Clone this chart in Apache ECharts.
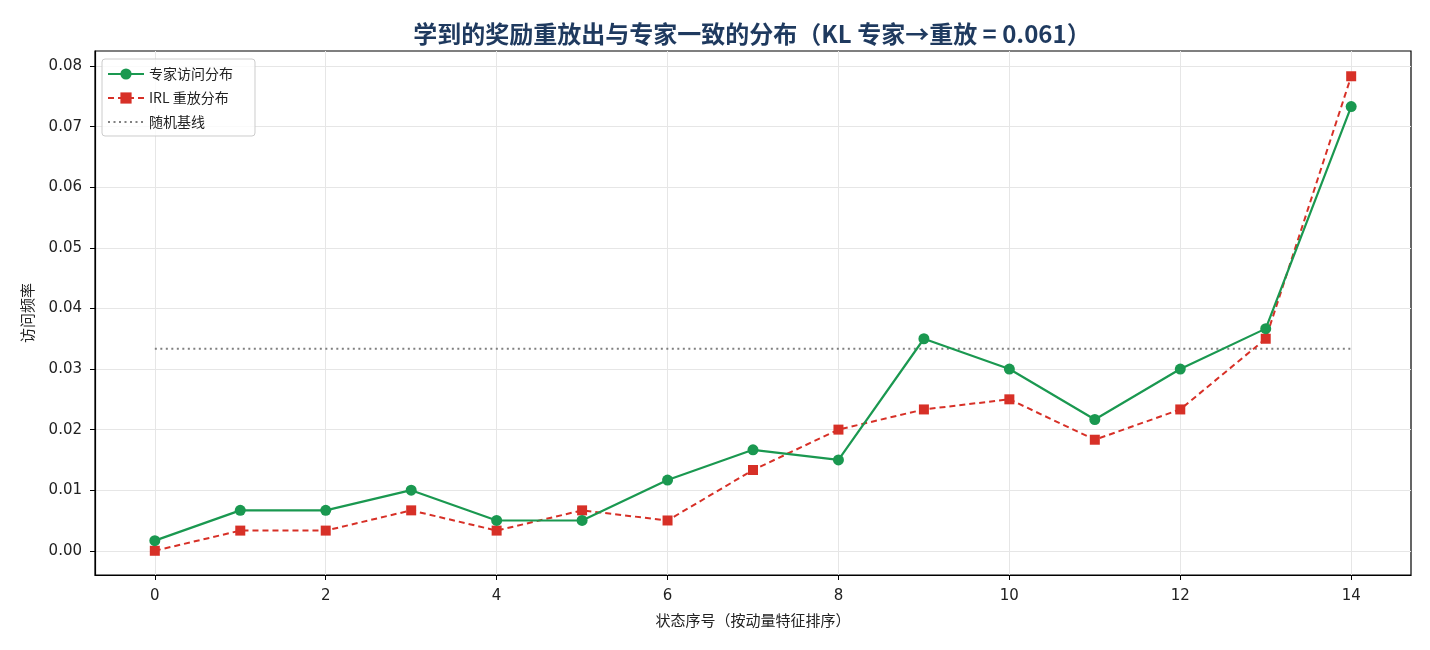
<!DOCTYPE html>
<html>
<head>
<meta charset="utf-8">
<script src="https://cdn.jsdelivr.net/npm/echarts@6/dist/echarts.min.js"></script>
<style>
  html, body { margin: 0; padding: 0; background: #fff; }
  #chart { width: 1430px; height: 650px; }
</style>
</head>
<body>
<div id="chart"></div>
<script>
var states = [0, 1, 2, 3, 4, 5, 6, 7, 8, 9, 10, 11, 12, 13, 14];
var expertFreq = [0.00167, 0.00667, 0.00667, 0.01, 0.005, 0.005, 0.01167, 0.01667, 0.015, 0.035, 0.03, 0.02167, 0.03, 0.03667, 0.07333];
var irlFreq = [0.0, 0.00333, 0.00333, 0.00667, 0.00333, 0.00667, 0.005, 0.01333, 0.02, 0.02333, 0.025, 0.01833, 0.02333, 0.035, 0.07833];
var baseline = 1 / 30;
var xTicks = [0, 2, 4, 6, 8, 10, 12, 14];
var yTicks = [0, 0.01, 0.02, 0.03, 0.04, 0.05, 0.06, 0.07, 0.08];

var font = '"Noto Sans CJK SC", "Noto Sans", sans-serif';
var numFont = '"DejaVu Sans", sans-serif';

function pairs(xs, ys) {
    return xs.map(function (x, i) { return [x, ys[i]]; });
}

var myChart = echarts.init(document.getElementById('chart'));

var option = {
    backgroundColor: '#fff',
    animation: false,
    textStyle: { fontFamily: font },
    title: {
        text: '学到的奖励重放出与专家一致的分布（KL 专家→重放 = 0.061）',
        left: 747,
        textAlign: 'center',
        top: 17,
        textStyle: { fontSize: 24, fontWeight: 'bold', color: '#1f3a5f', fontFamily: font }
    },
    legend: {
        left: 102,
        top: 59,
        orient: 'vertical',
        itemGap: 10,
        itemWidth: 36,
        itemHeight: 14,
        padding: [8, 22, 7, 5],
        borderColor: '#cccccc',
        borderWidth: 1,
        borderRadius: 3,
        backgroundColor: 'rgba(255,255,255,0.8)',
        textStyle: { fontSize: 14, color: '#222', fontFamily: font },
        data: ['专家访问分布', 'IRL 重放分布', '随机基线']
    },
    grid: {
        left: 95,
        right: 19,
        top: 51,
        bottom: 75,
        show: true,
        borderColor: '#000',
        borderWidth: 1.2,
        containLabel: false
    },
    xAxis: {
        type: 'value',
        min: -0.7,
        max: 14.7,
        name: '状态序号（按动量特征排序）',
        nameLocation: 'middle',
        nameGap: 38,
        nameTextStyle: { fontSize: 15, color: '#222', fontFamily: font },
        axisLine: { show: true, onZero: false, lineStyle: { color: '#000', width: 1.2 } },
        axisTick: { show: true, length: 5, customValues: xTicks, lineStyle: { color: '#000' } },
        axisLabel: { customValues: xTicks, fontSize: 15, color: '#222', margin: 14, fontFamily: numFont },
        splitLine: { show: true, lineStyle: { color: '#e6e6e6', width: 1 } }
    },
    yAxis: {
        type: 'value',
        min: -0.004,
        max: 0.0825,
        name: '访问频率',
        nameLocation: 'middle',
        nameGap: 60,
        nameTextStyle: { fontSize: 15, color: '#222', fontFamily: font },
        axisLine: { show: true, onZero: false, lineStyle: { color: '#000', width: 1.2 } },
        axisTick: { show: true, length: 5, customValues: yTicks, lineStyle: { color: '#000' } },
        axisLabel: {
            customValues: yTicks,
            fontSize: 15,
            color: '#222',
            margin: 13,
            fontFamily: numFont,
            formatter: function (v) { return v.toFixed(2); }
        },
        splitLine: { show: true, lineStyle: { color: '#e6e6e6', width: 1 } }
    },
    series: [
        {
            name: '专家访问分布',
            type: 'line',
            data: pairs(states, expertFreq),
            symbol: 'circle',
            symbolSize: 11,
            itemStyle: { color: '#1a9850' },
            lineStyle: { color: '#1a9850', width: 2.2 },
            z: 4
        },
        {
            name: 'IRL 重放分布',
            type: 'line',
            data: pairs(states, irlFreq),
            symbol: 'rect',
            symbolSize: 10,
            itemStyle: { color: '#d73027' },
            lineStyle: { color: '#d73027', width: 2, type: [6, 4] },
            z: 3
        },
        {
            name: '随机基线',
            type: 'line',
            data: [[states[0], baseline], [states[states.length - 1], baseline]],
            symbol: 'none',
            itemStyle: { color: 'rgba(0,0,0,0)', borderColor: 'rgba(0,0,0,0)' },
            lineStyle: { color: '#808080', width: 2, type: [2, 3.5] },
            z: 2
        }
    ]
};

myChart.setOption(option);
</script>
</body>
</html>
